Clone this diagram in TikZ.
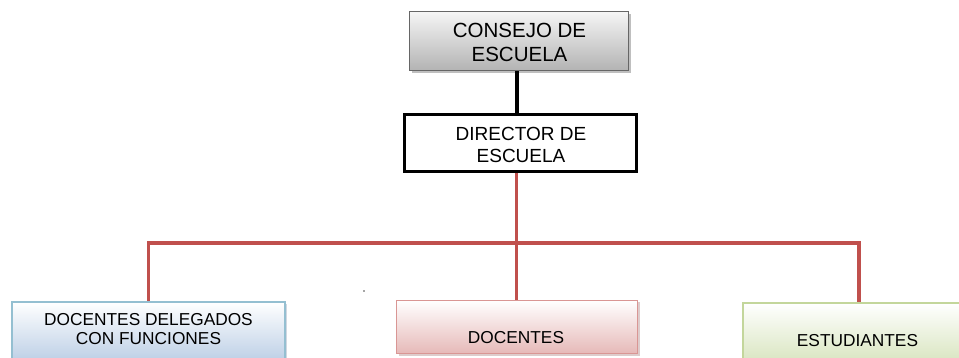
\documentclass[tikz,border=0pt]{standalone}
\usepackage{fontspec}
\setmainfont{Liberation Sans}
\usetikzlibrary{shadows,backgrounds}
\definecolor{redline}{HTML}{C0504D}
\tikzset{
  boxshadow/.style={drop shadow={shadow xshift=2.5pt,shadow yshift=-2.5pt,fill=black,opacity=0.25}},
  graybox/.style={draw=gray!80!black,line width=1pt,top color=gray!8,bottom color=gray!60,boxshadow},
  dirbox/.style={draw=black,line width=3pt,fill=white},
  bluebox/.style={draw=blue!30!cyan!40!gray!60,line width=1.2pt,top color=white,bottom color={rgb,255:red,184;green,204;blue,228},drop shadow={shadow xshift=2pt,shadow yshift=-2pt,fill={rgb,255:red,120;green,140;blue,170},opacity=0.35}},
  pinkbox/.style={draw={rgb,255:red,217;green,150;blue,148},line width=1.5pt,top color=white,bottom color={rgb,255:red,230;green,185;blue,184},drop shadow={shadow xshift=2pt,shadow yshift=-2pt,fill={rgb,255:red,160;green,110;blue,110},opacity=0.35}},
  greenbox/.style={draw={rgb,255:red,195;green,214;blue,155},line width=1.5pt,top color=white,bottom color={rgb,255:red,215;green,228;blue,189}},
  txt/.style={align=center,inner sep=0pt,text=black},
  redconn/.style={draw=redline,line width=3.5pt},
  blackconn/.style={draw=black,line width=4pt}
}
\begin{document}
\begin{tikzpicture}[x=1pt,y=-1pt]
\useasboundingbox (0,0) rectangle (959,358);
% boxes
\node[graybox,minimum width=219pt,minimum height=59pt,inner sep=0pt] (consejo) at (519,41.5) {};
\node[txt,font=\fontsize{20.5}{24}\selectfont] (consejot) at (519.5,42.5) {CONSEJO DE\\ESCUELA};
\node[dirbox,minimum width=232pt,minimum height=57pt,inner sep=0pt] (director) at (520.5,143) {};
\node[txt,font=\fontsize{19}{22}\selectfont] (directort) at (521,144.5) {DIRECTOR DE\\ESCUELA};
\node[bluebox,minimum width=273pt,minimum height=63pt,inner sep=0pt] (delegados) at (148.5,333.5) {};
\node[txt,font=\fontsize{17.3}{18.5}\selectfont] (delegadost) at (148.5,329) {DOCENTES DELEGADOS\\CON FUNCIONES};
\node[pinkbox,minimum width=241pt,minimum height=53pt,inner sep=0pt] (docentes) at (517,327) {};
\node[txt,font=\fontsize{17.3}{19}\selectfont] (docentest) at (516,338) {DOCENTES};
\node[greenbox,minimum width=232pt,minimum height=62pt,inner sep=0pt] (estudiantes) at (859,334) {};
\node[txt,font=\fontsize{17.3}{19}\selectfont] (estudiantest) at (857.5,341) {ESTUDIANTES};
\coordinate (hub) at (516.5,243);
\fill[gray!70] (363,290) rectangle (365,292);
% connectors
\begin{pgfonlayer}{background}
\draw[blackconn] (consejo.south -| hub) -- (director.north -| hub);
\draw[redconn] (director.south -| hub) -- (hub);
\draw[redconn] (hub) -| (delegados.north);
\draw[redconn] (hub) -| (estudiantes.north);
\draw[redconn] (hub) -- (docentes.north -| hub);
\end{pgfonlayer}
\end{tikzpicture}
\end{document}
